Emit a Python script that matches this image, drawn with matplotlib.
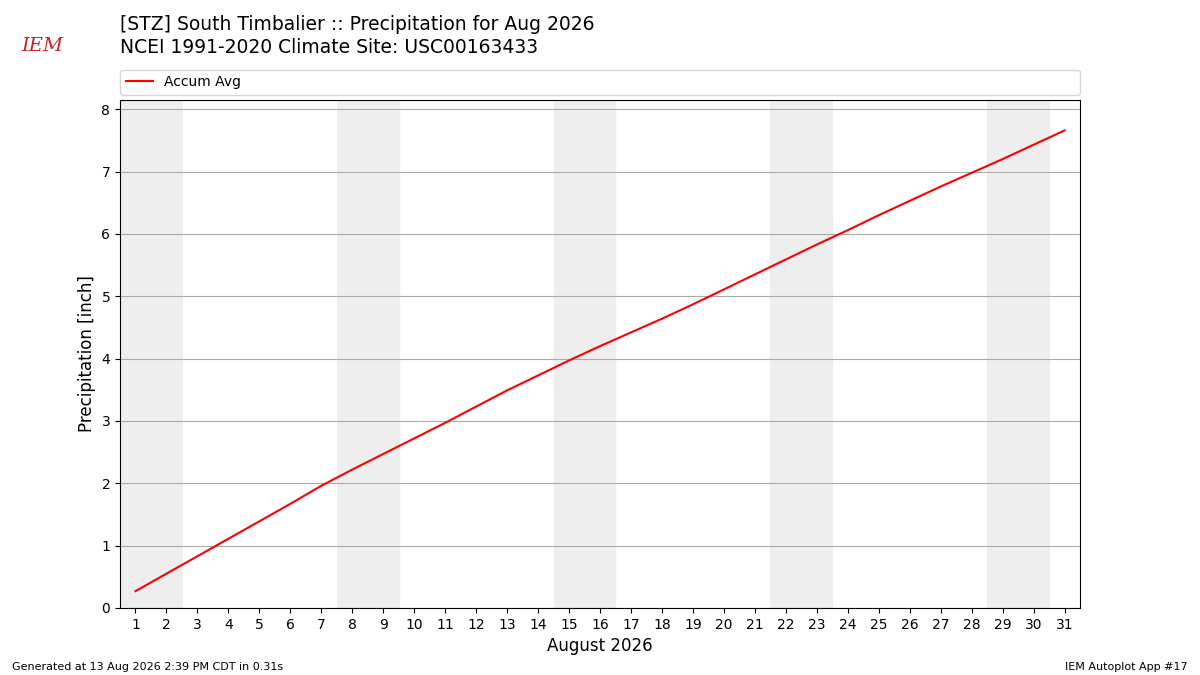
import matplotlib
matplotlib.use("Agg")
import matplotlib.pyplot as plt

days = list(range(1, 32))
accum_avg = [0.27, 0.55, 0.83, 1.11, 1.39, 1.67, 1.96, 2.22, 2.47, 2.72,
             2.97, 3.23, 3.49, 3.73, 3.97, 4.20, 4.42, 4.64, 4.87, 5.11,
             5.35, 5.59, 5.83, 6.06, 6.30, 6.53, 6.76, 6.98, 7.20, 7.43, 7.66]
weekend_starts = [1, 8, 15, 22, 29]

fig = plt.figure(figsize=(12, 6.75), dpi=100)
ax = fig.add_axes([0.1, 0.0993, 0.8, 0.7527])

for d in weekend_starts:
    ax.axvspan(d - 0.5, d + 1.5, color="#eeeeee", zorder=0)

ax.plot(days, accum_avg, color="red", label="Accum Avg", zorder=3)
ax.set_xlim(0.5, 31.5)
ax.set_ylim(0, 8.15)
ax.set_xticks(days)
ax.set_yticks(range(0, 9))
ax.grid(axis="y", color="#aaaaaa", zorder=1)
ax.set_axisbelow(True)
ax.set_ylabel("Precipitation [inch]", fontsize=12)
ax.set_xlabel("August 2026", fontsize=12)
ax.legend(loc="lower left", bbox_to_anchor=(0, 1.01, 1, 0.05), mode="expand",
          ncol=1, fontsize=10, borderaxespad=0)

fig.text(0.1, 0.978, "[STZ] South Timbalier :: Precipitation for Aug 2026\n"
         "NCEI 1991-2020 Climate Site: USC00163433", fontsize=13.5, va="top",
         linespacing=1.25)
fig.text(0.01, 0.008, "Generated at 13 Aug 2026 2:39 PM CDT in 0.31s", fontsize=8)
fig.text(0.99, 0.008, "IEM Autoplot App #17", fontsize=8, ha="right")
fig.text(0.018, 0.925, "IEM", fontsize=14, color="#cc2222", style="italic",
         family="serif")

fig.savefig("out.png", dpi=100)
